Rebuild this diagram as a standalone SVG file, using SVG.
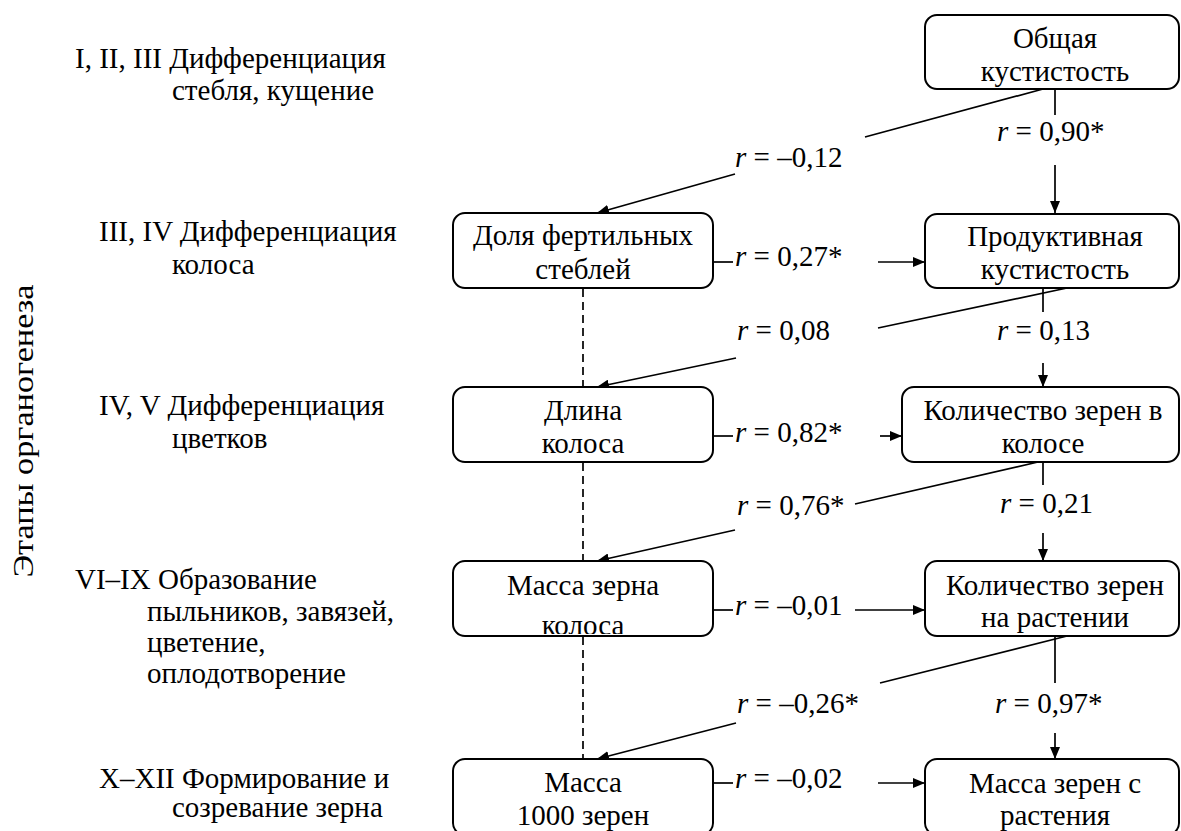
<svg xmlns="http://www.w3.org/2000/svg" width="1181" height="831" viewBox="0 0 1181 831" font-family="Liberation Serif, Times New Roman, Times, serif">
<style>
text{font-family:'Liberation Serif','Times New Roman',Times,serif;font-size:29px;fill:#000}
.box{fill:#fff;stroke:#000;stroke-width:2}
.c{text-anchor:middle}
.ln{stroke:#000;stroke-width:1.7;fill:none}
.ds{stroke:#000;stroke-width:1.7;stroke-dasharray:8,5;fill:none}
.i{font-style:italic}
</style>
<defs>
<marker id="ah" markerUnits="userSpaceOnUse" markerWidth="12" markerHeight="10" refX="12" refY="5" orient="auto">
<path d="M0,0 L12,5 L0,10 z" fill="#000"/>
</marker>
<clipPath id="clipB3"><rect x="453" y="561" width="260" height="73"/></clipPath>
</defs>
<rect width="1181" height="831" fill="#fff"/>

<g id="axis-label">
<text transform="translate(33,431) rotate(-90)" class="c" textLength="293" lengthAdjust="spacingAndGlyphs" style="font-size:30px">Этапы органогенеза</text>
</g>

<g id="stages">
<text x="75" y="68">I, II, III Дифференциация</text>
<text x="172" y="100">стебля, кущение</text>
<text x="99" y="241">III, IV Дифференциация</text>
<text x="172" y="274">колоса</text>
<text x="99" y="415">IV, V Дифференциация</text>
<text x="172" y="448">цветков</text>
<text x="75" y="589">VI–IX Образование</text>
<text x="147" y="621">пыльников, завязей,</text>
<text x="147" y="652">цветение,</text>
<text x="147" y="683">оплодотворение</text>
<text x="99" y="788">X–XII Формирование и</text>
<text x="172" y="817">созревание зерна</text>
</g>

<g id="connectors">
<line class="ln" x1="1055" y1="89" x2="1055" y2="115"/>
<line class="ln" x1="1055" y1="165" x2="1055" y2="213" marker-end="url(#ah)"/>
<line class="ln" x1="1043" y1="288" x2="1043" y2="312"/>
<line class="ln" x1="1043" y1="363" x2="1043" y2="387" marker-end="url(#ah)"/>
<line class="ln" x1="1043" y1="462" x2="1043" y2="485"/>
<line class="ln" x1="1043" y1="533" x2="1043" y2="561" marker-end="url(#ah)"/>
<line class="ln" x1="1055" y1="636" x2="1055" y2="683"/>
<line class="ln" x1="1055" y1="733" x2="1055" y2="759" marker-end="url(#ah)"/>

<line class="ln" x1="713" y1="262" x2="733" y2="262"/>
<line class="ln" x1="878" y1="262" x2="925" y2="262" marker-end="url(#ah)"/>
<line class="ln" x1="713" y1="436" x2="733" y2="436"/>
<line class="ln" x1="880" y1="436" x2="902" y2="436" marker-end="url(#ah)"/>
<line class="ln" x1="713" y1="610" x2="733" y2="610"/>
<line class="ln" x1="855" y1="610" x2="925" y2="610" marker-end="url(#ah)"/>
<line class="ln" x1="713" y1="783" x2="733" y2="783"/>
<line class="ln" x1="878" y1="783" x2="925" y2="783" marker-end="url(#ah)"/>

<line class="ln" x1="1043" y1="89" x2="865" y2="137"/>
<line class="ln" x1="735" y1="174" x2="597" y2="213" marker-end="url(#ah)"/>
<line class="ln" x1="1067" y1="288" x2="878" y2="328"/>
<line class="ln" x1="736" y1="358" x2="597" y2="387" marker-end="url(#ah)"/>
<line class="ln" x1="1038" y1="462" x2="855" y2="504"/>
<line class="ln" x1="735" y1="530" x2="597" y2="561" marker-end="url(#ah)"/>
<line class="ln" x1="1067" y1="636" x2="880" y2="683"/>
<line class="ln" x1="736" y1="723" x2="597" y2="759" marker-end="url(#ah)"/>

<line class="ds" x1="583" y1="289" x2="583" y2="386"/>
<line class="ds" x1="583" y1="463" x2="583" y2="560"/>
<line class="ds" x1="583" y1="637" x2="583" y2="758"/>
</g>

<g id="labels">
<text x="735" y="167"><tspan class="i">r</tspan> = –0,12</text>
<text x="997" y="141"><tspan class="i">r</tspan> = 0,90*</text>
<text x="735" y="266"><tspan class="i">r</tspan> = 0,27*</text>
<text x="737" y="340"><tspan class="i">r</tspan> = 0,08</text>
<text x="997" y="340"><tspan class="i">r</tspan> = 0,13</text>
<text x="735" y="442"><tspan class="i">r</tspan> = 0,82*</text>
<text x="737" y="515"><tspan class="i">r</tspan> = 0,76*</text>
<text x="1000" y="513"><tspan class="i">r</tspan> = 0,21</text>
<text x="735" y="615"><tspan class="i">r</tspan> = –0,01</text>
<text x="737" y="713"><tspan class="i">r</tspan> = –0,26*</text>
<text x="995" y="713"><tspan class="i">r</tspan> = 0,97*</text>
<text x="735" y="788"><tspan class="i">r</tspan> = –0,02</text>
</g>

<g id="node-dolya">
<rect class="box" x="453" y="213" width="260" height="75" rx="12"/>
<text class="c" x="583" y="245">Доля фертильных</text>
<text class="c" x="583" y="279">стеблей</text>
</g>
<g id="node-dlina">
<rect class="box" x="453" y="387" width="260" height="75" rx="12"/>
<text class="c" x="583" y="420">Длина</text>
<text class="c" x="583" y="453">колоса</text>
</g>
<g id="node-massa-kolosa">
<rect class="box" x="453" y="561" width="260" height="75" rx="12"/>
<text class="c" x="583" y="595">Масса зерна</text>
<text class="c" x="583" y="635" clip-path="url(#clipB3)">колоса</text>
</g>
<g id="node-massa-1000">
<rect class="box" x="453" y="759" width="260" height="76" rx="12"/>
<text class="c" x="583" y="792">Масса</text>
<text class="c" x="583" y="825">1000 зерен</text>
</g>
<g id="node-obshchaya">
<rect class="box" x="925" y="15" width="254" height="74" rx="12"/>
<text class="c" x="1055" y="48">Общая</text>
<text class="c" x="1055" y="81">кустистость</text>
</g>
<g id="node-produktivnaya">
<rect class="box" x="925" y="214" width="254" height="74" rx="12"/>
<text class="c" x="1055" y="246">Продуктивная</text>
<text class="c" x="1055" y="279">кустистость</text>
</g>
<g id="node-zeren-kolose">
<rect class="box" x="902" y="387" width="277" height="75" rx="12"/>
<text class="c" x="1043" y="420">Количество зерен в</text>
<text class="c" x="1043" y="453">колосе</text>
</g>
<g id="node-zeren-rastenii">
<rect class="box" x="925" y="561" width="254" height="75" rx="12"/>
<text class="c" x="1055" y="595">Количество зерен</text>
<text class="c" x="1055" y="627">на растении</text>
</g>
<g id="node-massa-rasteniya">
<rect class="box" x="925" y="759" width="254" height="76" rx="12"/>
<text class="c" x="1055" y="793">Масса зерен с</text>
<text class="c" x="1055" y="825">растения</text>
</g>
</svg>
